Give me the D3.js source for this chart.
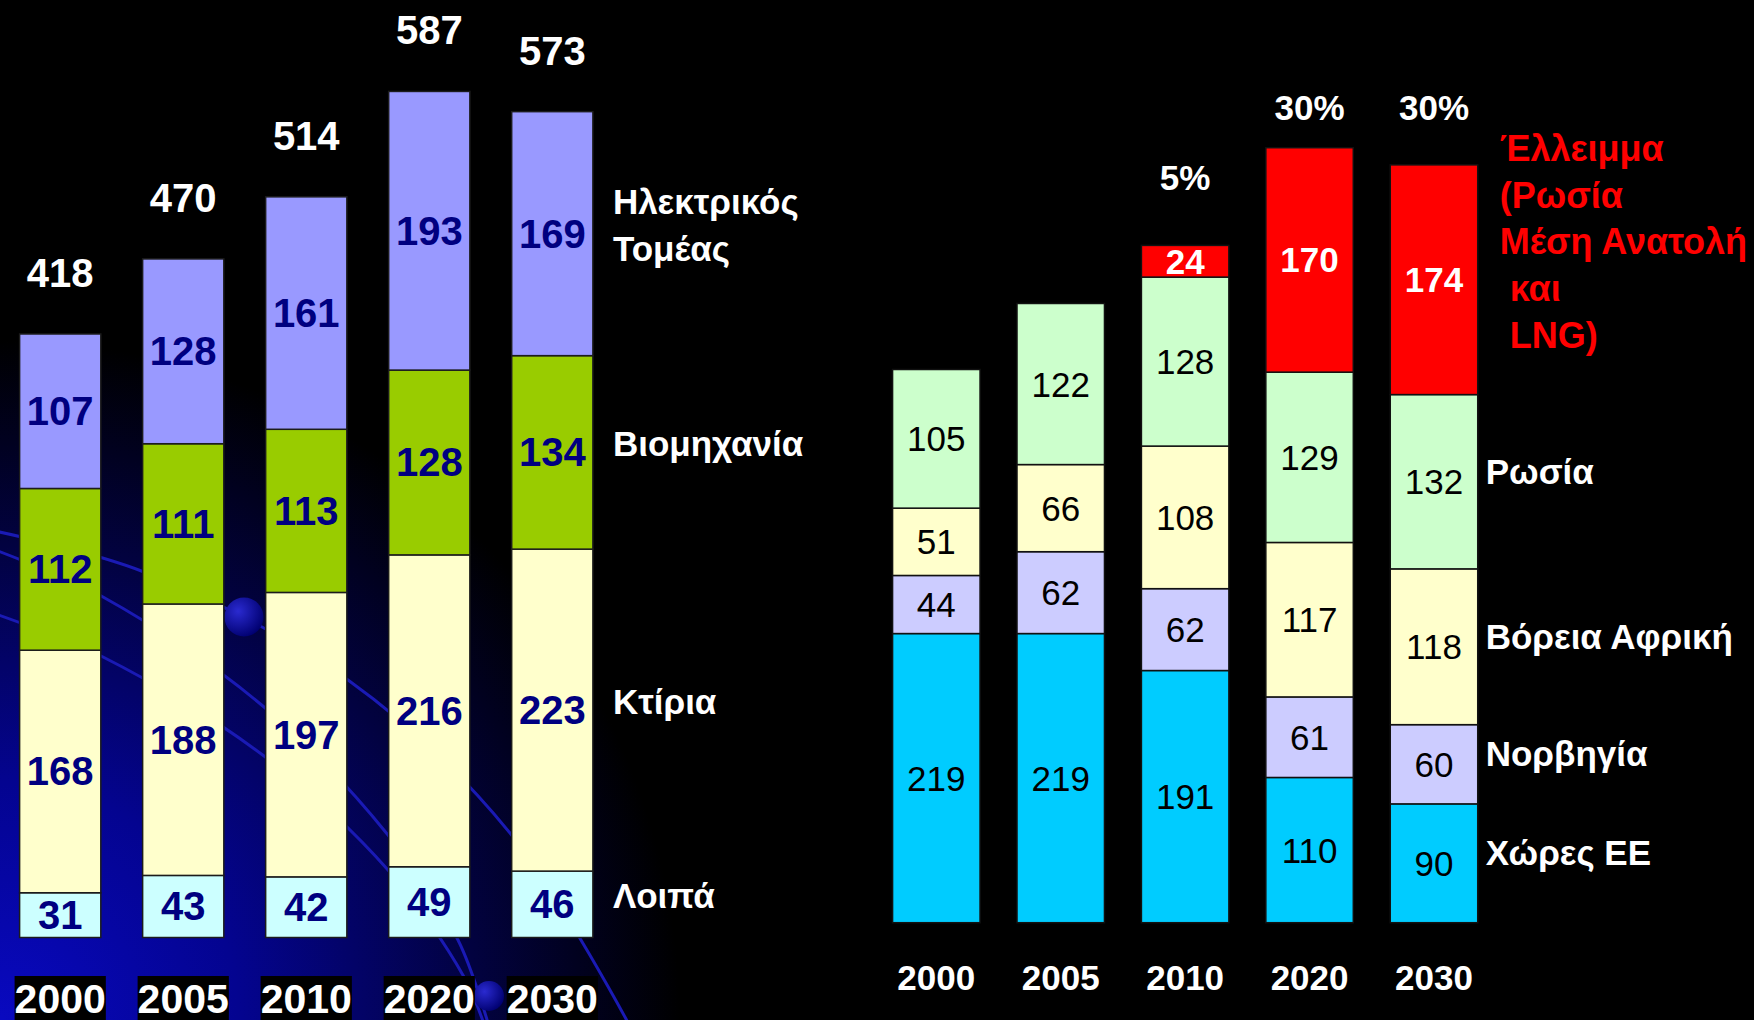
<!DOCTYPE html>
<html>
<head>
<meta charset="utf-8">
<script src="https://cdn.jsdelivr.net/npm/d3@7"></script>
<style>
  html, body { margin: 0; padding: 0; background: #000; }
  svg { display: block; }
  text { font-family: "Liberation Sans", Arial, sans-serif; }
</style>
</head>
<body>
<div id="chart"></div>
<script>
// Data
const years = ["2000", "2005", "2010", "2020", "2030"];

// left chart: gas demand by sector
const demandSectors = ["other", "buildings", "industry", "power"];
const demandNames = ["Λοιπά", "Κτίρια", "Βιομηχανία", "Ηλεκτρικός\nΤομέας"];
const demandOther = [31, 43, 42, 49, 46];
const demandBuildings = [168, 188, 197, 216, 223];
const demandIndustry = [112, 111, 113, 128, 134];
const demandPower = [107, 128, 161, 193, 169];
const demandTotals = [418, 470, 514, 587, 573];

// right chart: gas supply by origin
const supplySources = ["eu", "norway", "nafrica", "russia", "deficit"];
const supplyNames = ["Χώρες ΕΕ", "Νορβηγία", "Βόρεια Αφρική", "Ρωσία",
    "Έλλειμμα\n(Ρωσία\nΜέση Ανατολή\n και\n LNG)"];
const supplyEU = [219, 219, 191, 110, 90];
const supplyNorway = [44, 62, 62, 61, 60];
const supplyNAfrica = [51, 66, 108, 117, 118];
const supplyRussia = [105, 122, 128, 129, 132];
const supplyDeficit = [0, 0, 24, 170, 174];
const deficitShare = ["", "", "5%", "30%", "30%"];

const W = 1754, H = 1020;

const svg = d3.select("#chart")
    .append("svg")
    .attr("width", W)
    .attr("height", H);

// Background: black with a blue glow in the lower left corner
const defs = svg.append("defs");

const glow = defs.append("radialGradient")
    .attr("id", "glow")
    .attr("gradientUnits", "userSpaceOnUse")
    .attr("cx", 0).attr("cy", H).attr("r", 680);
glow.append("stop").attr("offset", 0).attr("stop-color", "#0909c0");
glow.append("stop").attr("offset", 0.35).attr("stop-color", "#040490");
glow.append("stop").attr("offset", 0.7).attr("stop-color", "#020240");
glow.append("stop").attr("offset", 1).attr("stop-color", "#000000");

const ball = defs.append("radialGradient")
    .attr("id", "ball")
    .attr("cx", 0.35).attr("cy", 0.35).attr("r", 0.7);
ball.append("stop").attr("offset", 0).attr("stop-color", "#2a2ad0");
ball.append("stop").attr("offset", 1).attr("stop-color", "#000070");

svg.append("rect")
    .attr("width", W)
    .attr("height", H)
    .attr("fill", "#000");

svg.append("rect")
    .attr("width", W)
    .attr("height", H)
    .attr("fill", "url(#glow)");

// decorative swooshes of the slide template
const swooshes = [
    [[-10, 530], [144, 572], [348, 680], [510, 833], [632, 1030]],
    [[-10, 548], [103, 597], [264, 707], [388, 835], [458, 940], [490, 1030]],
    [[-10, 612], [103, 657], [264, 756], [388, 870], [464, 977], [486, 1030]]
];
const swooshLine = d3.line().curve(d3.curveCatmullRom);
svg.append("g")
    .selectAll("path")
    .data(swooshes)
    .join("path")
    .attr("d", swooshLine)
    .attr("fill", "none")
    .attr("stroke", "#1a1ab4")
    .attr("stroke-width", 3);

svg.append("circle").attr("cx", 244).attr("cy", 617).attr("r", 19.5).attr("fill", "url(#ball)");
svg.append("circle").attr("cx", 489).attr("cy", 996).attr("r", 15).attr("fill", "url(#ball)");

// ---------- Left chart ----------
const demandRows = years.map((y, i) => ({
    year: y,
    other: demandOther[i],
    buildings: demandBuildings[i],
    industry: demandIndustry[i],
    power: demandPower[i]
}));

const demandColor = d3.scaleOrdinal()
    .domain(demandSectors)
    .range(["#ccffff", "#ffffcc", "#99cc00", "#9999ff"]);

const xL = d3.scaleBand()
    .domain(years)
    .range([-1.3, 613.8])
    .paddingInner(0.34)
    .paddingOuter(0.17);

const yL = d3.scaleLinear()
    .domain([0, 587])
    .range([937.5, 90]);

const demandStack = d3.stack().keys(demandSectors)(demandRows);

const left = svg.append("g");

const layersL = left.selectAll(".layerL")
    .data(demandStack)
    .join("g")
    .attr("class", "layerL")
    .attr("fill", d => demandColor(d.key));

layersL.selectAll("rect")
    .data(d => d)
    .join("rect")
    .attr("x", d => xL(d.data.year))
    .attr("y", d => yL(d[1]))
    .attr("width", xL.bandwidth())
    .attr("height", d => yL(d[0]) - yL(d[1]))
    .attr("stroke", "#1c1c1c")
    .attr("stroke-width", 1.5);

layersL.selectAll("text")
    .data(d => d)
    .join("text")
    .attr("x", d => xL(d.data.year) + xL.bandwidth() / 2)
    .attr("y", d => (yL(d[0]) + yL(d[1])) / 2 + 14)
    .attr("text-anchor", "middle")
    .attr("font-size", 40)
    .attr("font-weight", "bold")
    .attr("fill", "#000080")
    .text(d => d[1] - d[0]);

// totals above the bars
left.selectAll(".totalL")
    .data(years)
    .join("text")
    .attr("class", "totalL")
    .attr("x", d => xL(d) + xL.bandwidth() / 2)
    .attr("y", (d, i) => yL(d3.sum(demandSectors, k => demandRows[i][k])) - 47)
    .attr("text-anchor", "middle")
    .attr("font-size", 40)
    .attr("font-weight", "bold")
    .attr("fill", "#fff")
    .text((d, i) => demandTotals[i]);

// year labels with black boxes
const yearL = left.selectAll(".yearL")
    .data(years)
    .join("g")
    .attr("class", "yearL");

yearL.append("text")
    .attr("x", d => xL(d) + xL.bandwidth() / 2)
    .attr("y", 1013)
    .attr("text-anchor", "middle")
    .attr("font-size", 41)
    .attr("font-weight", "bold")
    .attr("fill", "#fff")
    .text(d => d);

yearL.each(function() {
    const t = d3.select(this).select("text");
    const b = t.node().getBBox();
    d3.select(this).insert("rect", "text")
        .attr("x", b.x)
        .attr("y", b.y)
        .attr("width", b.width)
        .attr("height", H - b.y)
        .attr("fill", "#000");
});

// series names next to the last bar
const lastL = demandStack.map(s => s[s.length - 1]);
left.selectAll(".nameL")
    .data(demandSectors)
    .join("text")
    .attr("class", "nameL")
    .attr("font-size", 35)
    .attr("font-weight", "bold")
    .attr("fill", "#fff")
    .each(function(d, i) {
        const lines = demandNames[i].split("\n");
        const mid = (yL(lastL[i][0]) + yL(lastL[i][1])) / 2;
        d3.select(this).selectAll("tspan")
            .data(lines)
            .join("tspan")
            .attr("x", xL(years[years.length - 1]) + xL.bandwidth() + 20)
            .attr("y", (l, j) => mid + 4 + (j - (lines.length - 1) / 2) * 47)
            .text(l => l);
    });

// ---------- Right chart ----------
const supplyRows = years.map((y, i) => ({
    year: y,
    eu: supplyEU[i],
    norway: supplyNorway[i],
    nafrica: supplyNAfrica[i],
    russia: supplyRussia[i],
    deficit: supplyDeficit[i]
}));

const supplyColor = d3.scaleOrdinal()
    .domain(supplySources)
    .range(["#00ccff", "#ccccff", "#ffffcc", "#ccffcc", "#ff0000"]);

const xR = d3.scaleBand()
    .domain(years)
    .range([874.1, 1496.2])
    .paddingInner(0.297)
    .paddingOuter(0.1485);

const yR = d3.scaleLinear()
    .domain([0, 587])
    .range([922.7, 147.7]);

const supplyStack = d3.stack().keys(supplySources)(supplyRows);

const right = svg.append("g");

const layersR = right.selectAll(".layerR")
    .data(supplyStack)
    .join("g")
    .attr("class", "layerR")
    .attr("fill", d => supplyColor(d.key));

layersR.selectAll("rect")
    .data(d => d.filter(p => p[1] > p[0]))
    .join("rect")
    .attr("x", d => xR(d.data.year))
    .attr("y", d => yR(d[1]))
    .attr("width", xR.bandwidth())
    .attr("height", d => yR(d[0]) - yR(d[1]))
    .attr("stroke", "#111")
    .attr("stroke-width", 1.5);

layersR.each(function(s) {
    const isDeficit = s.key === "deficit";
    d3.select(this).selectAll("text")
        .data(s.filter(p => p[1] > p[0]))
        .join("text")
        .attr("x", d => xR(d.data.year) + xR.bandwidth() / 2)
        .attr("y", d => (yR(d[0]) + yR(d[1])) / 2 + 12.5)
        .attr("text-anchor", "middle")
        .attr("font-size", 35)
        .attr("font-weight", isDeficit ? "bold" : "normal")
        .attr("fill", isDeficit ? "#fff" : "#000")
        .text(d => d[1] - d[0]);
});

// deficit shares above the bars
const topR = yR(d3.max(supplyRows, r => d3.sum(supplySources, k => r[k])));
right.selectAll(".share")
    .data(years)
    .join("text")
    .attr("class", "share")
    .attr("x", d => xR(d) + xR.bandwidth() / 2)
    .attr("y", (d, i) => Math.max(yR(d3.sum(supplySources, k => supplyRows[i][k])) - 55, topR - 28))
    .attr("text-anchor", "middle")
    .attr("font-size", 35)
    .attr("font-weight", "bold")
    .attr("fill", "#fff")
    .text((d, i) => deficitShare[i]);

// year labels
right.selectAll(".yearR")
    .data(years)
    .join("text")
    .attr("class", "yearR")
    .attr("x", d => xR(d) + xR.bandwidth() / 2)
    .attr("y", 990)
    .attr("text-anchor", "middle")
    .attr("font-size", 35)
    .attr("font-weight", "bold")
    .attr("fill", "#fff")
    .text(d => d);

// series names next to the last bar
const lastR = supplyStack.map(s => s[s.length - 1]);
const xEndR = xR(years[years.length - 1]) + xR.bandwidth();
right.selectAll(".nameR")
    .data(supplySources)
    .join("text")
    .attr("class", "nameR")
    .attr("font-size", d => d === "deficit" ? 36 : 35)
    .attr("font-weight", "bold")
    .attr("fill", d => d === "deficit" ? "#ff0000" : "#fff")
    .style("white-space", "pre")
    .each(function(d, i) {
        const lines = supplyNames[i].split("\n");
        const top = yR(lastR[i][1]), mid = (yR(lastR[i][0]) + top) / 2;
        d3.select(this).selectAll("tspan")
            .data(lines)
            .join("tspan")
            .attr("x", d === "deficit" ? xEndR + 22 : xEndR + 8)
            .attr("y", (l, j) => d === "deficit" ? top - 4 + j * 46.7 : mid + 2)
            .text(l => l);
    });
</script>
</body>
</html>
